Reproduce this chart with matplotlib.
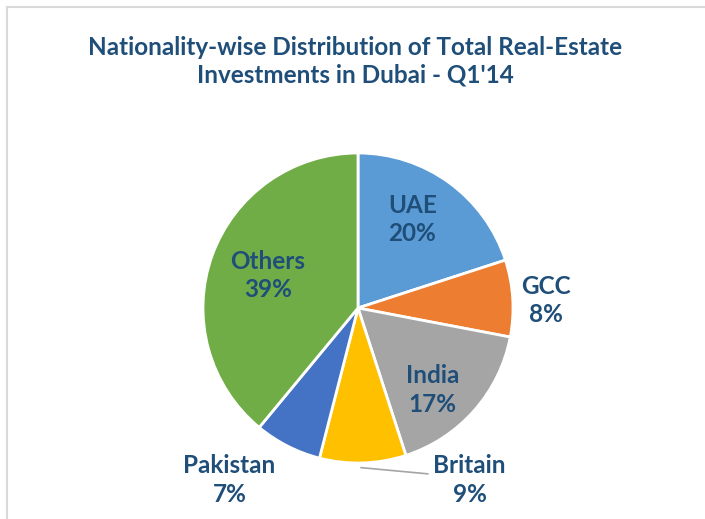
import matplotlib as mpl
import matplotlib.pyplot as plt
from matplotlib.lines import Line2D

mpl.rcParams['font.family'] = ['Lato', 'DejaVu Sans']

# --- data ---
labels = ["UAE", "GCC", "India", "Britain", "Pakistan", "Others"]
shares = [20, 8, 17, 9, 7, 39]
colors = ["#5B9BD5", "#ED7D31", "#A5A5A5", "#FFC000", "#4472C4", "#70AD47"]

# label placement in pie-radius units (styling only)
label_xy = [(0.35, 0.57), (1.21, 0.05), (0.48, -0.53),
            (0.72, -1.11), (-0.83, -1.11), (-0.58, 0.21)]

TXT = "#1F4E79"
W, H = 705, 519
cx, cy, R = 358, 308, 155   # pie centre / radius in px

fig = plt.figure(figsize=(W / 100, H / 100), dpi=100)
ax = fig.add_axes([0, 0, 1, 1])

ax.pie(shares, colors=colors, startangle=90, counterclock=False, radius=1,
       wedgeprops=dict(edgecolor="white", linewidth=2))

ax.set_xlim(-cx / R, (W - cx) / R)
ax.set_ylim(-(H - cy) / R, cy / R)
ax.set_aspect("equal", adjustable="box")
ax.axis("off")

for lab, val, (x, y) in zip(labels, shares, label_xy):
    ax.text(x, y, f"{lab}\n{val}%", ha="center", va="center", fontsize=17.5,
            fontweight="bold", color=TXT, linespacing=1.28)

# leader line for Britain
ax.plot([0.02, 0.45], [-1.03, -1.07], color="#A5A5A5", lw=1.2)

fig.text(355 / W, 1 - 61 / H,
         "Nationality-wise Distribution of Total Real-Estate\nInvestments in Dubai - Q1'14",
         ha="center", va="center", fontsize=17.5, fontweight="bold", color=TXT,
         linespacing=1.23)

# chart frame (cropped at right / bottom)
fig.add_artist(Line2D([6.5 / W, 6.5 / W], [0, 1 - 6.5 / H], color="#D9D9D9",
                      lw=1.5, transform=fig.transFigure))
fig.add_artist(Line2D([6.5 / W, 1], [1 - 6.5 / H, 1 - 6.5 / H], color="#D9D9D9",
                      lw=1.5, transform=fig.transFigure))

fig.savefig("out.png", dpi=100)
